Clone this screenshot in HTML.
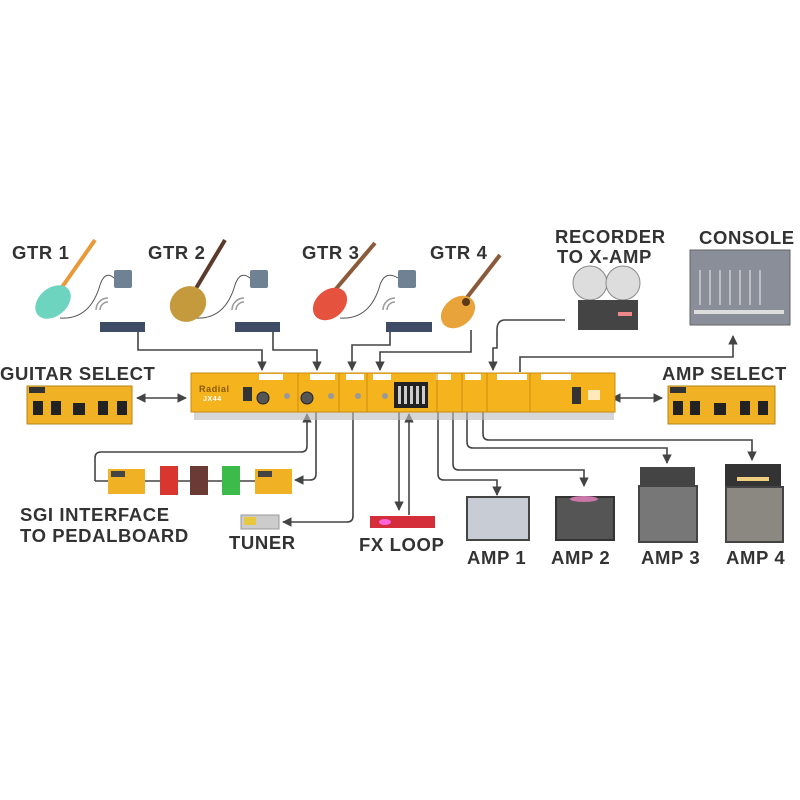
<!DOCTYPE html>
<html><head><meta charset="utf-8"><style>
html,body{margin:0;padding:0;background:#fff;}
svg{display:block}
text{font-family:"Liberation Sans",sans-serif;font-weight:bold;fill:#333;letter-spacing:0.6px}
</style></head><body>
<svg width="800" height="800" viewBox="0 0 800 800" xmlns="http://www.w3.org/2000/svg">
<defs>
<marker id="a" viewBox="0 0 10 10" refX="9" refY="5" markerWidth="6" markerHeight="6" orient="auto-start-reverse"><path d="M0,0L10,5L0,10z" fill="#444"/></marker>
</defs>
<rect width="800" height="800" fill="#fff"/>

<g font-size="18.5">
<text x="12" y="259">GTR 1</text>
<text x="148" y="259">GTR 2</text>
<text x="302" y="259">GTR 3</text>
<text x="430" y="259">GTR 4</text>
<text x="555" y="243">RECORDER</text>
<text x="557" y="263">TO X-AMP</text>
<text x="699" y="244">CONSOLE</text>
<text x="0" y="380">GUITAR SELECT</text>
<text x="662" y="380">AMP SELECT</text>
<text x="20" y="521">SGI INTERFACE</text>
<text x="20" y="542">TO PEDALBOARD</text>
<text x="229" y="549">TUNER</text>
<text x="359" y="551">FX LOOP</text>
<text x="467" y="564">AMP 1</text>
<text x="551" y="564">AMP 2</text>
<text x="641" y="564">AMP 3</text>
<text x="726" y="564">AMP 4</text>
</g>

<g fill="none" stroke="#444" stroke-width="1.6">
<path d="M138,332V350H262V370" marker-end="url(#a)"/>
<path d="M273,332V350H317V370" marker-end="url(#a)"/>
<path d="M390,332V345H352V370" marker-end="url(#a)"/>
<path d="M471,330V352H380V370" marker-end="url(#a)"/>
<path d="M565,320H505Q497,320 497,330V348H493V370" marker-end="url(#a)"/>
<path d="M520,372V357H733V336" marker-end="url(#a)"/>
<path d="M137,398H186" marker-start="url(#a)" marker-end="url(#a)"/>
<path d="M612,398H662" marker-start="url(#a)" marker-end="url(#a)"/>
<path d="M95,481V458Q95,452 101,452H301Q307,452 307,446V414" marker-end="url(#a)"/>
<path d="M95,481H108M145,481H255"/>
<path d="M316,412V474Q316,480 310,480H295" marker-end="url(#a)"/>
<path d="M353,412V516Q353,522 347,522H283" marker-end="url(#a)"/>
<path d="M399,412V510" marker-end="url(#a)"/>
<path d="M409,515V414" marker-end="url(#a)"/>
<path d="M438,412V474Q438,480 444,480H497V495" marker-end="url(#a)"/>
<path d="M453,412V464Q453,470 459,470H584V486" marker-end="url(#a)"/>
<path d="M467,412V442Q467,448 473,448H667V463" marker-end="url(#a)"/>
<path d="M483,412V434Q483,440 489,440H752V460" marker-end="url(#a)"/>
</g>

<g>
<rect x="27" y="386" width="105" height="38" fill="#f0b124" stroke="#b5841a"/>
<rect x="29" y="387" width="16" height="6" fill="#333"/>
<g fill="#222"><rect x="33" y="401" width="10" height="14"/><rect x="51" y="401" width="10" height="14"/><rect x="73" y="403" width="12" height="12"/><rect x="98" y="401" width="10" height="14"/><rect x="117" y="401" width="10" height="14"/></g>
<rect x="668" y="386" width="107" height="38" fill="#f0b124" stroke="#b5841a"/>
<rect x="670" y="387" width="16" height="6" fill="#333"/>
<g fill="#222"><rect x="673" y="401" width="10" height="14"/><rect x="690" y="401" width="10" height="14"/><rect x="714" y="403" width="12" height="12"/><rect x="740" y="401" width="10" height="14"/><rect x="758" y="401" width="10" height="14"/></g>
</g>

<rect x="194" y="412" width="420" height="8" fill="#bbb" opacity="0.6"/>
<rect x="191" y="373" width="424" height="39" fill="#f5b41e" stroke="#c98a10"/>
<g fill="#fff"><rect x="259" y="374" width="24" height="6"/><rect x="310" y="374" width="25" height="6"/><rect x="346" y="374" width="18" height="6"/><rect x="373" y="374" width="18" height="6"/><rect x="436" y="374" width="15" height="6"/><rect x="465" y="374" width="16" height="6"/><rect x="497" y="374" width="30" height="6"/><rect x="541" y="374" width="30" height="6"/></g>
<g stroke="#c98a10"><line x1="298" y1="373" x2="298" y2="412"/><line x1="339" y1="373" x2="339" y2="412"/><line x1="367" y1="373" x2="367" y2="412"/><line x1="437" y1="373" x2="437" y2="412"/><line x1="462" y1="373" x2="462" y2="412"/><line x1="487" y1="373" x2="487" y2="412"/><line x1="530" y1="373" x2="530" y2="412"/></g>
<text x="199" y="392" font-size="9" style="fill:#8a5a00">Radial</text>
<text x="203" y="401" font-size="7" style="fill:#fff">JX44</text>
<rect x="243" y="387" width="9" height="14" fill="#333"/>
<circle cx="263" cy="398" r="6" fill="#555" stroke="#222"/>
<circle cx="307" cy="398" r="6" fill="#555" stroke="#222"/>
<circle cx="287" cy="396" r="3" fill="#999"/><circle cx="331" cy="396" r="3" fill="#999"/>
<circle cx="358" cy="396" r="3" fill="#999"/><circle cx="385" cy="396" r="3" fill="#999"/>
<rect x="394" y="382" width="34" height="26" fill="#222"/>
<g fill="#ccc"><rect x="398" y="386" width="3" height="18"/><rect x="404" y="386" width="3" height="18"/><rect x="410" y="386" width="3" height="18"/><rect x="416" y="386" width="3" height="18"/><rect x="422" y="386" width="3" height="18"/></g>
<rect x="572" y="387" width="9" height="17" fill="#333"/>
<rect x="588" y="390" width="12" height="10" fill="#fff" opacity="0.7"/>

<g fill="#3f4c66"><rect x="100" y="322" width="45" height="10"/><rect x="235" y="322" width="45" height="10"/><rect x="386" y="322" width="46" height="10"/></g>
<g fill="#6f8294"><rect x="114" y="270" width="18" height="18" rx="2"/><rect x="250" y="270" width="18" height="18" rx="2"/><rect x="398" y="270" width="18" height="18" rx="2"/></g>
<g fill="none" stroke="#999" stroke-width="1.5"><path d="M100,310a8,8 0 0 1 8,-8M96,310a12,12 0 0 1 12,-12"/><path d="M236,310a8,8 0 0 1 8,-8M232,310a12,12 0 0 1 12,-12"/><path d="M387,310a8,8 0 0 1 8,-8M383,310a12,12 0 0 1 12,-12"/></g>
<g fill="none" stroke="#555"><path d="M60,318Q90,320 100,285Q105,270 114,278"/><path d="M195,318Q225,320 235,285Q240,270 250,278"/><path d="M340,318Q370,320 380,285Q385,270 398,278"/></g>

<g>
<line x1="60" y1="290" x2="95" y2="240" stroke="#e89a3a" stroke-width="4"/>
<ellipse cx="53" cy="302" rx="20" ry="14" fill="#6dd4bf" transform="rotate(-40 53 302)"/>
<line x1="195" y1="290" x2="225" y2="240" stroke="#5a3a2a" stroke-width="4"/>
<ellipse cx="188" cy="304" rx="19" ry="17" fill="#c49a3c" transform="rotate(-40 188 304)"/>
<line x1="335" y1="290" x2="375" y2="243" stroke="#8b5a3a" stroke-width="4"/>
<ellipse cx="330" cy="304" rx="19" ry="14" fill="#e5533f" transform="rotate(-40 330 304)"/>
<line x1="465" y1="300" x2="500" y2="255" stroke="#8b5a3a" stroke-width="4"/>
<ellipse cx="458" cy="312" rx="19" ry="14" fill="#e8a33a" transform="rotate(-40 458 312)"/>
<circle cx="466" cy="302" r="4" fill="#5a3a1a"/>
</g>

<circle cx="590" cy="283" r="17" fill="#ddd" stroke="#888"/>
<circle cx="623" cy="283" r="17" fill="#ddd" stroke="#888"/>
<rect x="578" y="300" width="60" height="30" fill="#444"/>
<rect x="618" y="312" width="14" height="4" fill="#e88"/>
<rect x="690" y="250" width="100" height="75" fill="#8a8e98" stroke="#666"/>
<g fill="#ddd"><rect x="694" y="310" width="90" height="4"/></g>
<g stroke="#eee" stroke-width="1"><line x1="700" y1="270" x2="700" y2="305"/><line x1="710" y1="270" x2="710" y2="305"/><line x1="720" y1="270" x2="720" y2="305"/><line x1="730" y1="270" x2="730" y2="305"/><line x1="740" y1="270" x2="740" y2="305"/><line x1="750" y1="270" x2="750" y2="305"/><line x1="760" y1="270" x2="760" y2="305"/></g>

<rect x="108" y="469" width="37" height="25" fill="#f0b124"/><rect x="111" y="471" width="14" height="6" fill="#444"/>
<rect x="160" y="466" width="18" height="29" fill="#d8362e"/>
<rect x="190" y="466" width="18" height="29" fill="#6a3a34"/>
<rect x="222" y="466" width="18" height="29" fill="#3dbb4a"/>
<rect x="255" y="469" width="37" height="25" fill="#f0b124"/><rect x="258" y="471" width="14" height="6" fill="#444"/>
<rect x="241" y="515" width="38" height="14" fill="#ccc" stroke="#999"/>
<rect x="244" y="517" width="12" height="8" fill="#e8c840"/>
<rect x="370" y="516" width="65" height="12" fill="#d42e3a"/>
<ellipse cx="385" cy="522" rx="6" ry="3" fill="#f6d"/>

<rect x="467" y="497" width="62" height="43" fill="#c8ccd4" stroke="#444" stroke-width="2"/>
<rect x="556" y="497" width="58" height="43" fill="#555" stroke="#333" stroke-width="2"/>
<ellipse cx="584" cy="499" rx="14" ry="3" fill="#c7a"/>
<rect x="640" y="467" width="55" height="18" fill="#444"/>
<rect x="639" y="486" width="58" height="56" fill="#777" stroke="#444" stroke-width="2"/>
<rect x="725" y="464" width="56" height="22" fill="#333"/>
<rect x="737" y="477" width="32" height="4" fill="#f0d080"/>
<rect x="726" y="487" width="57" height="55" fill="#8a8880" stroke="#444" stroke-width="2"/>
</svg>
</body></html>
